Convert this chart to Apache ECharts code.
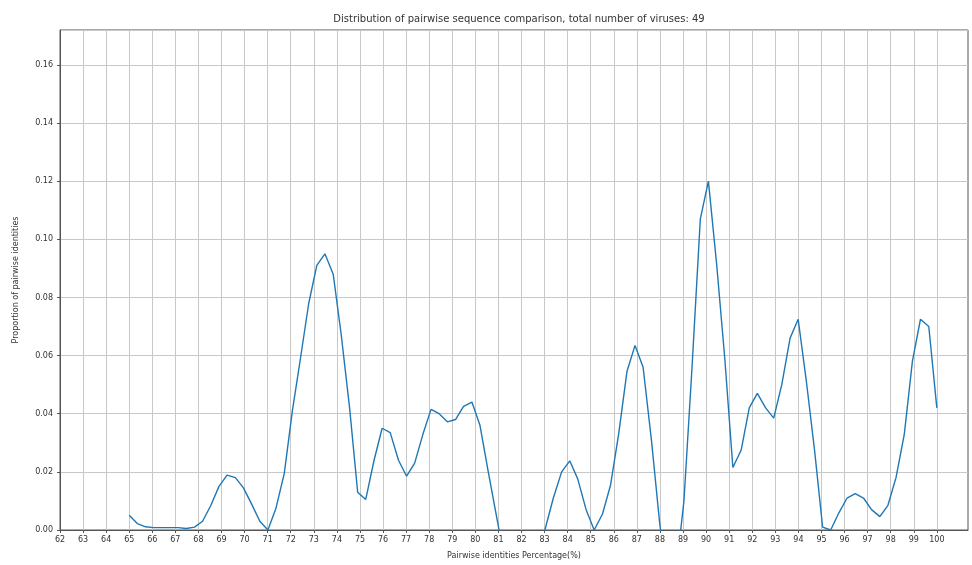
<!DOCTYPE html>
<html>
<head>
<meta charset="utf-8">
<script src="https://cdn.jsdelivr.net/npm/echarts@6/dist/echarts.min.js"></script>
<style>
  html, body { margin: 0; padding: 0; background: #ffffff; }
  #chart { width: 972px; height: 565px; }
</style>
</head>
<body>
<div id="chart"></div>
<script>
// Pairwise identity percentages at which the density was evaluated
const identities = [
  65.00, 65.35, 65.71, 66.06, 66.41, 66.77, 67.12, 67.47, 67.83, 68.18,
  68.54, 68.89, 69.24, 69.60, 69.95, 70.30, 70.66, 71.01, 71.36, 71.72,
  72.07, 72.42, 72.78, 73.13, 73.48, 73.84, 74.19, 74.55, 74.90, 75.25,
  75.61, 75.96, 76.31, 76.67, 77.02, 77.37, 77.73, 78.08, 78.43, 78.79,
  79.14, 79.49, 79.85, 80.20, 80.56, 80.91, 81.26, 81.62, 81.97, 82.32,
  82.68, 83.03, 83.38, 83.74, 84.09, 84.44, 84.80, 85.15, 85.51, 85.86,
  86.21, 86.57, 86.92, 87.27, 87.63, 87.98, 88.33, 88.69, 89.04, 89.39,
  89.75, 90.10, 90.45, 90.81, 91.16, 91.52, 91.87, 92.22, 92.58, 92.93,
  93.28, 93.64, 93.99, 94.34, 94.70, 95.05, 95.40, 95.76, 96.11, 96.46,
  96.82, 97.17, 97.53, 97.88, 98.23, 98.59, 98.94, 99.29, 99.65, 100.00
];

// Proportion of pairwise identities at each point
const proportions = [
  0.0051, 0.0022, 0.0011, 0.0008, 0.0008, 0.0008, 0.0008, 0.0005, 0.0010, 0.0030,
  0.0085, 0.0150, 0.0189, 0.0180, 0.0145, 0.0090, 0.0030, 0.0000, 0.0075, 0.0195,
  0.0410, 0.0590, 0.0780, 0.0910, 0.0950, 0.0880, 0.0670, 0.0420, 0.0130, 0.0105,
  0.0240, 0.0350, 0.0335, 0.0240, 0.0185, 0.0230, 0.0330, 0.0415, 0.0400, 0.0372,
  0.0380, 0.0425, 0.0440, 0.0360, 0.0200, 0.0050, -0.0100, -0.0180, -0.0200, -0.0160,
  -0.0100, 0.0005, 0.0110, 0.0200, 0.0238, 0.0175, 0.0070, 0.0000, 0.0055, 0.0155,
  0.0330, 0.0545, 0.0635, 0.0560, 0.0310, 0.0030, -0.0200, -0.0150, 0.0100, 0.0560,
  0.1070, 0.1200, 0.0920, 0.0590, 0.0215, 0.0275, 0.0420, 0.0470, 0.0420, 0.0385,
  0.0500, 0.0660, 0.0725, 0.0515, 0.0275, 0.0010, 0.0000, 0.0060, 0.0110, 0.0125,
  0.0110, 0.0070, 0.0046, 0.0085, 0.0180, 0.0330, 0.0580, 0.0725, 0.0700, 0.0420
];

// Tick positions on the identity axis
const xTicks = [
  62, 63, 64, 65, 66, 67, 68, 69, 70, 71, 72, 73, 74, 75, 76, 77, 78, 79, 80,
  81, 82, 83, 84, 85, 86, 87, 88, 89, 90, 91, 92, 93, 94, 95, 96, 97, 98, 99, 100
];

// Axis ranges and tick spacing
const xRange = [62, 101.35];
const yRange = [0, 0.172];
const yStep = 0.02;

const titleText = 'Distribution of pairwise sequence comparison, total number of viruses: 49';
const xTitle = 'Pairwise identities Percentage(%)';
const yTitle = 'Proportion of pairwise identities';

const points = identities.map((x, i) => [x, proportions[i]]);

const font = 'DejaVu Sans, Liberation Sans, sans-serif';
const textColor = '#333333';
const gridColor = '#c8c8c8';
const frameColor = '#555555';

const chart = echarts.init(document.getElementById('chart'), null, { renderer: 'canvas' });

chart.setOption({
  animation: false,
  backgroundColor: '#ffffff',
  title: {
    text: titleText,
    left: 514,
    top: 9,
    textAlign: 'center',
    textStyle: { fontFamily: font, fontSize: 10, fontWeight: 'normal', color: textColor }
  },
  grid: {
    left: 60,
    right: 4,
    top: 30,
    bottom: 35,
    show: true,
    borderColor: frameColor,
    borderWidth: 1,
    backgroundColor: 'transparent'
  },
  xAxis: {
    type: 'value',
    min: xRange[0],
    max: xRange[1],
    name: xTitle,
    nameLocation: 'middle',
    nameGap: 22,
    nameTextStyle: { fontFamily: font, fontSize: 8, color: textColor },
    axisLine: { show: true, onZero: false, lineStyle: { color: frameColor, width: 1 } },
    axisTick: { show: true, length: 3, customValues: xTicks, lineStyle: { color: frameColor } },
    axisLabel: {
      fontFamily: font, fontSize: 8, color: textColor, margin: 6,
      customValues: xTicks
    },
    splitLine: { show: true, lineStyle: { color: gridColor, width: 1 } }
  },
  yAxis: {
    type: 'value',
    min: yRange[0],
    max: yRange[1],
    interval: yStep,
    name: yTitle,
    nameLocation: 'middle',
    nameGap: 40,
    nameRotate: 90,
    nameTextStyle: { fontFamily: font, fontSize: 8, color: textColor },
    axisLine: { show: true, lineStyle: { color: frameColor, width: 1 } },
    axisTick: { show: true, length: 3, lineStyle: { color: frameColor } },
    axisLabel: {
      fontFamily: font, fontSize: 8, color: textColor, margin: 7,
      showMaxLabel: false,
      formatter: v => v.toFixed(2)
    },
    splitLine: { show: true, lineStyle: { color: gridColor, width: 1 } }
  },
  series: [{
    type: 'line',
    data: points,
    showSymbol: false,
    clip: true,
    lineStyle: { color: '#1f77b4', width: 1.4 },
    itemStyle: { color: '#1f77b4' }
  }]
});
</script>
</body>
</html>
